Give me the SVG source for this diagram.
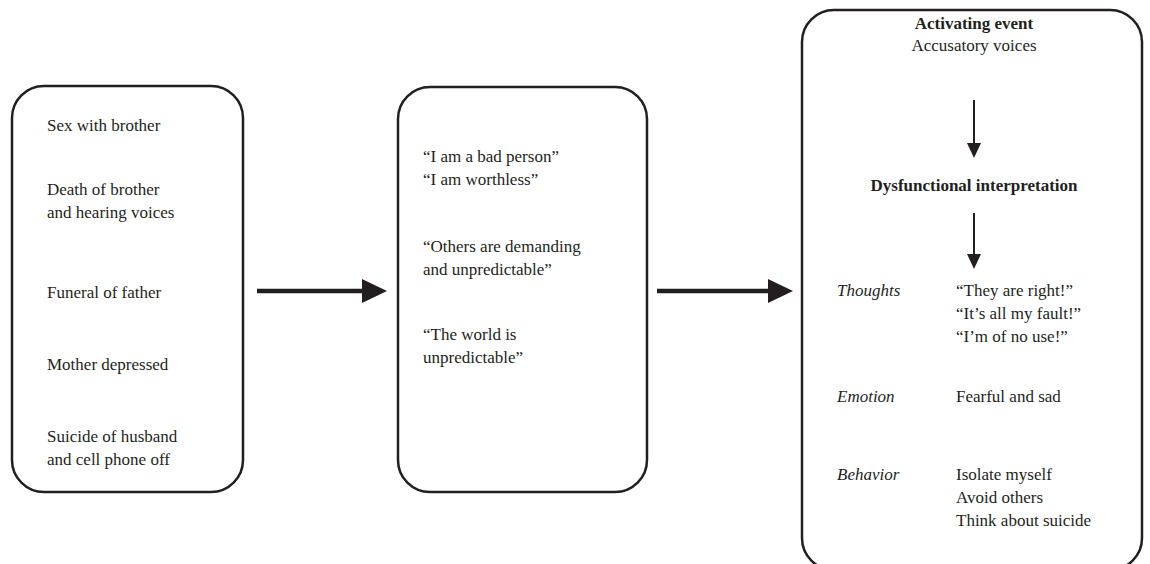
<svg xmlns="http://www.w3.org/2000/svg" width="1150" height="564" viewBox="0 0 1150 564">
<style>
.box{fill:none;stroke:#231f20;stroke-width:2.5}
text{font-family:"Liberation Serif","Times New Roman",serif;font-size:17px;fill:#231f20}
.b{font-weight:bold}
.i{font-style:italic}
.c{text-anchor:middle}
.thick{stroke:#231f20;stroke-width:4.5;fill:none}
.thin{stroke:#231f20;stroke-width:2;fill:none}
</style>
<defs>
<marker id="bigHead" markerUnits="userSpaceOnUse" markerWidth="26" markerHeight="26" refX="0" refY="12" orient="auto">
<path d="M0,0 L25,12 L0,24 Z" fill="#231f20"/>
</marker>
<marker id="smallHead" markerUnits="userSpaceOnUse" markerWidth="16" markerHeight="16" refX="0" refY="7" orient="auto">
<path d="M0,0 L15,7 L0,14 Z" fill="#231f20"/>
</marker>
</defs>
<g id="connectors">
<line class="thick" x1="257" y1="291" x2="362" y2="291" marker-end="url(#bigHead)"/>
<line class="thick" x1="657" y1="291" x2="768" y2="291" marker-end="url(#bigHead)"/>
<line class="thin" x1="974" y1="100" x2="974" y2="143" marker-end="url(#smallHead)"/>
<line class="thin" x1="974" y1="213" x2="974" y2="254" marker-end="url(#smallHead)"/>
</g>
<g id="node-events">
<rect class="box" x="12" y="86" width="231" height="406" rx="32" ry="32"/>
<text x="47" y="131">Sex with brother</text>
<text x="47" y="195">Death of brother</text>
<text x="47" y="218">and hearing voices</text>
<text x="47" y="298">Funeral of father</text>
<text x="47" y="370">Mother depressed</text>
<text x="47" y="442">Suicide of husband</text>
<text x="47" y="465">and cell phone off</text>
</g>
<g id="node-beliefs">
<rect class="box" x="398" y="87" width="249" height="405" rx="32" ry="32"/>
<text x="423" y="162">“I am a bad person”</text>
<text x="423" y="185">“I am worthless”</text>
<text x="423" y="252">“Others are demanding</text>
<text x="423" y="275">and unpredictable”</text>
<text x="423" y="340">“The world is</text>
<text x="423" y="363">unpredictable”</text>
</g>
<g id="node-abc">
<rect class="box" x="802" y="10" width="340" height="560" rx="32" ry="32"/>
<text class="b c" x="974" y="29">Activating event</text>
<text class="c" x="974" y="51">Accusatory voices</text>
<text class="b c" x="974" y="191">Dysfunctional interpretation</text>
<text class="i" x="837" y="296">Thoughts</text>
<text x="956" y="296">“They are right!”</text>
<text x="956" y="319">“It’s all my fault!”</text>
<text x="956" y="342">“I’m of no use!”</text>
<text class="i" x="837" y="402">Emotion</text>
<text x="956" y="402">Fearful and sad</text>
<text class="i" x="837" y="480">Behavior</text>
<text x="956" y="480">Isolate myself</text>
<text x="956" y="503">Avoid others</text>
<text x="956" y="526">Think about suicide</text>
</g>
</svg>
